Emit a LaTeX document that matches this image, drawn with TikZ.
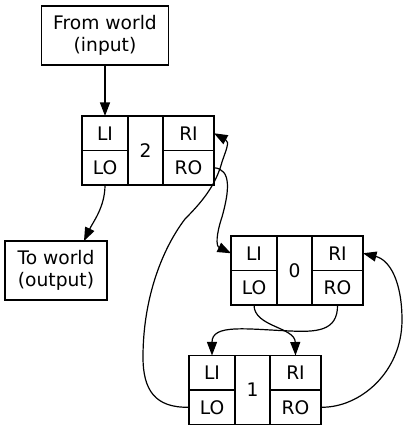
\documentclass[tikz,border=0pt]{standalone}
\usepackage{fontspec}
\setmainfont{DejaVu Sans}
\usetikzlibrary{arrows.meta,positioning,calc}

\begin{document}
\begin{tikzpicture}[
    x=1bp, y=1bp,
    every node/.style={font=\fontsize{18.67bp}{22.4bp}\selectfont},
    box/.style={draw, line width=1.2bp, align=center, inner sep=0pt, outer sep=0pt, minimum height=59bp, minimum width=#1},
    cell/.style={draw, line width=1.2bp, inner sep=0pt, outer sep=0pt, minimum height=34.5bp, minimum width=#1},
    core/.style={draw, line width=1.2bp, inner sep=0pt, outer sep=0pt, minimum height=69bp, minimum width=35bp},
    arrow/.style={-{Triangle[length=13.5bp,width=10bp]}, line width=1.2bp}
]

\useasboundingbox (0,0) rectangle (406,432);

% World nodes
\node[box=127bp] (inp) at (105,396.5) {From world\\(input)};
\node[box=102bp] (outp) at (56,161.5) {To world\\(output)};

% Records: LI/LO | id | RI/RO
\foreach \n/\cx/\cy in {2/148/281.5, 0/297/161.5, 1/255/42} {
    \pgfmathsetmacro{\xl}{\cx-43}
    \pgfmathsetmacro{\xm}{\cx-2.5}
    \pgfmathsetmacro{\xr}{\cx+40.5}
    \pgfmathsetmacro{\yt}{\cy+17.25}
    \pgfmathsetmacro{\yb}{\cy-17.25}
    \node[cell=46bp] (li\n) at (\xl,\yt) {LI};
    \node[cell=46bp] (lo\n) at (\xl,\yb) {LO};
    \node[core] (mid\n) at (\xm,\cy) {\n};
    \node[cell=51bp] (ri\n) at (\xr,\yt) {RI};
    \node[cell=51bp] (ro\n) at (\xr,\yb) {RO};
}

% Links
\draw[arrow] (inp.south) -- (li2.north);
\draw[arrow] (lo2.south) .. controls (105,225) and (93,210) .. ([xshift=28bp]outp.north);
\draw[arrow] (ro2.east) .. controls (232,263) and (229,240) .. (222,215)
    .. controls (216,197) and (216,186) .. (li0.west);
\draw[arrow] (lo1.west) .. controls (155,24) and (143,42) .. (143,75)
    .. controls (143,130) and (160,180) .. (185,213)
    .. controls (204,232) and (216,248) .. (222,270)
    .. controls (226,282) and (230,290) .. (ri2.east);
\draw[arrow] (ro1.east) .. controls (360,24) and (402,60) .. (402,112)
    .. controls (402,150) and (390,172) .. (ri0.east);
\draw[arrow] (lo0.south) .. controls (254,105) and (295,105) .. (ri1.north);
\draw[arrow] (ro0.south) .. controls (338,100) and (315,100) .. (290,101)
    .. controls (245,103) and (212,108) .. (li1.north);

\end{tikzpicture}
\end{document}
